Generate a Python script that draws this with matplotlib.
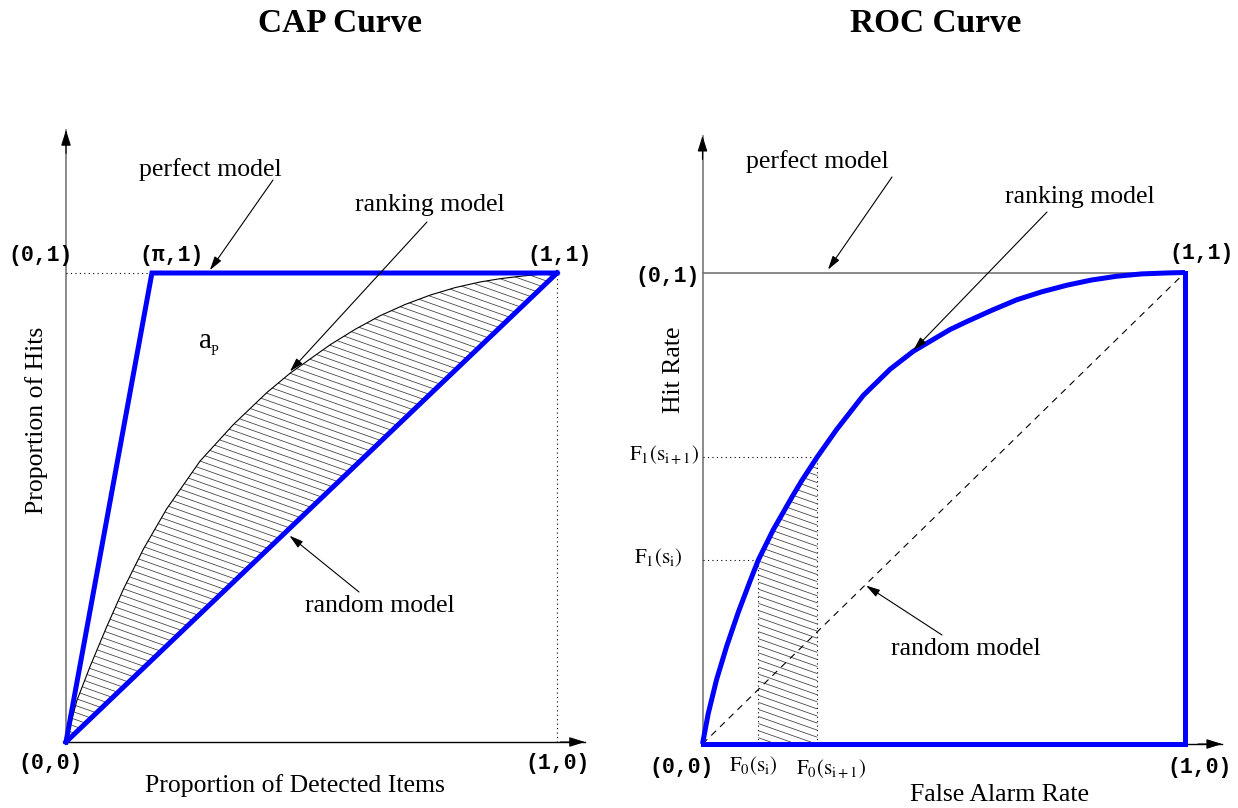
import numpy as np
import matplotlib
matplotlib.use("Agg")
import matplotlib.pyplot as plt
from matplotlib.patches import Polygon

plt.rcParams['font.family'] = ['Liberation Serif', 'DejaVu Serif']
plt.rcParams['mathtext.fontset'] = 'stix'

# CAP curve: ranking model
cap_x = [0, 0.022, 0.049, 0.083, 0.117, 0.158, 0.205, 0.273, 0.341, 0.409,
         0.456, 0.538, 0.589, 0.640, 0.691, 0.742, 0.793, 0.844, 0.885,
         0.925, 0.962, 1.0]
cap_y = [0, 0.088, 0.161, 0.246, 0.326, 0.412, 0.497, 0.599, 0.677, 0.745,
         0.786, 0.847, 0.880, 0.909, 0.933, 0.953, 0.969, 0.981, 0.988,
         0.993, 0.997, 1.0]
cap_pi = 0.175   # share of hits (pi) where the perfect model reaches 1

# ROC curve
roc_x = [0, 0.012, 0.029, 0.050, 0.074, 0.098, 0.116, 0.147, 0.185, 0.206,
         0.238, 0.278, 0.333, 0.389, 0.437, 0.513, 0.548, 0.600, 0.651,
         0.703, 0.755, 0.806, 0.858, 0.910, 0.962, 1.0]
roc_y = [0, 0.065, 0.136, 0.207, 0.279, 0.344, 0.391, 0.455, 0.523, 0.559,
         0.609, 0.667, 0.739, 0.795, 0.833, 0.879, 0.896, 0.920, 0.942,
         0.959, 0.973, 0.984, 0.992, 0.997, 0.999, 1.0]
# the strip between F0(s_i) and F0(s_i+1)
s_x = [0.116, 0.238]
s_y = [0.391, 0.609]

W, H = 1238, 808
BLUE = '#0000ff'
GREY = '#777777'
fig = plt.figure(figsize=(W / 100, H / 100), dpi=100)


def make_axes(left, right, org, sc):
    # axes whose data units put (0,0) and (1,1) where the picture has them
    ax = fig.add_axes([left / W, 0, (right - left) / W, 1])
    ax.set_xlim((left - org[0]) / sc[0], (right - org[0]) / sc[0])
    ax.set_ylim((org[1] - H) / sc[1], org[1] / sc[1])
    ax.axis('off')
    return ax


def fp(x, y):
    return (x / W, 1 - y / H)


def txt(x, y, s, **kw):
    kw.setdefault('ha', 'center')
    kw.setdefault('va', 'center')
    fig.text(*fp(x, y), s, **kw)


def mono(x, y, s):
    txt(x, y, s, family=['Liberation Mono', 'DejaVu Sans Mono'],
        weight='bold', fontsize=15.5)


def arrow(ax, tip, tail):
    ax.annotate('', xy=tip, xycoords='data', xytext=fp(*tail),
                textcoords='figure fraction',
                arrowprops=dict(arrowstyle='-|>,head_length=0.7,head_width=0.2',
                                color='black', lw=0.8, mutation_scale=12,
                                shrinkA=0, shrinkB=0))


def axis_arrows(ax, xtop, ytop):
    ax.plot([0, 0], [0, ytop], color=GREY, lw=1.2)
    ax.plot([0, xtop], [0, 0], color='black', lw=1.0)
    for tip, tail in [((0, ytop), (0, ytop - 0.05)), ((xtop, 0), (xtop - 0.05, 0))]:
        ax.annotate('', xy=tip, xytext=tail,
                    arrowprops=dict(arrowstyle='-|>,head_length=0.8,head_width=0.25',
                                    color='black', lw=0.8, mutation_scale=12,
                                    shrinkA=0, shrinkB=0))


def hatch(ax, pts, slope=-0.37, step=0.015):
    poly = Polygon(pts, closed=True, fill=False, edgecolor='none')
    ax.add_patch(poly)
    xs = np.array([-0.1, 1.1])
    for c in np.arange(-0.5, 1.6, step):
        ln, = ax.plot(xs, slope * xs + c, color='#3a3a3a', lw=0.55)
        ln.set_clip_path(poly)


# ---------------- CAP curve ----------------
ax1 = make_axes(0, 619, (66, 742), (491, 469))
hatch(ax1, list(zip(cap_x, cap_y)))
axis_arrows(ax1, 1.057, 1.305)
ax1.plot([0, cap_pi], [1, 1], color='black', lw=0.8, ls=(0, (1, 3)))
ax1.plot([1, 1], [0, 1], color='black', lw=0.8, ls=(0, (1, 3)))
ax1.plot(cap_x, cap_y, color='black', lw=0.8)
ax1.plot([0, cap_pi, 1], [0, 1, 1], color=BLUE, lw=3.6, solid_joinstyle='miter')
ax1.plot([0, 1], [0, 1], color=BLUE, lw=3.6)

arrow(ax1, (0.293, 1.006), (273, 180))
arrow(ax1, (0.456, 0.79), (427, 222))
arrow(ax1, (0.455, 0.44), (359, 592))

txt(340, 24, 'CAP Curve', fontsize=24, weight='bold')
txt(210, 170, 'perfect model', fontsize=18.5)
txt(430, 205, 'ranking model', fontsize=18.5)
txt(205, 341, 'a', fontsize=21)
txt(214, 351, 'P', fontsize=10)
txt(380, 606, 'random model', fontsize=18.5)
txt(37, 420, 'Proportion of Hits', fontsize=18.5, rotation=90)
txt(295, 786, 'Proportion of Detected Items', fontsize=18.5)
mono(41, 256, '(0,1)')
mono(172, 256, '(\u03c0,1)')
mono(560, 256, '(1,1)')
mono(51, 763, '(0,0)')
mono(558, 763, '(1,0)')

# ---------------- ROC curve ----------------
ax2 = make_axes(619, 1238, (702.5, 744), (482.5, 471.5))
strip = [(s_x[0], 0), (s_x[0], s_y[0])]
strip += [(x, y) for x, y in zip(roc_x, roc_y) if s_x[0] < x < s_x[1]]
strip += [(s_x[1], s_y[1]), (s_x[1], 0)]
hatch(ax2, strip, slope=-0.36)
axis_arrows(ax2, 1.077, 1.29)
ax2.plot([0, 1], [1, 1], color=GREY, lw=1.2)
ax2.plot([0, 1], [0, 1], color='black', lw=0.8, ls=(0, (6, 5)))
for x, y in zip(s_x, s_y):
    ax2.plot([0, x], [y, y], color='black', lw=0.8, ls=(0, (1, 3)))
    ax2.plot([x, x], [0, y], color='black', lw=0.8, ls=(0, (1, 3)))
ax2.plot(roc_x, roc_y, color=BLUE, lw=3.6, solid_capstyle='butt',
         solid_joinstyle='round')
ax2.plot([1, 1, 0], [1, 0, 0], color=BLUE, lw=3.6, solid_joinstyle='miter')

arrow(ax2, (0.26, 1.006), (892, 177))
arrow(ax2, (0.437, 0.835), (1047, 212))
arrow(ax2, (0.339, 0.336), (942, 635))

txt(936, 24, 'ROC Curve', fontsize=24, weight='bold')
txt(817, 162, 'perfect model', fontsize=18.5)
txt(1080, 197, 'ranking model', fontsize=18.5)
txt(966, 649, 'random model', fontsize=18.5)
txt(674, 370, 'Hit Rate', fontsize=18.5, rotation=90)
txt(1000, 795, 'False Alarm Rate', fontsize=18.5)
txt(664, 455, r'$\mathrm{F_1(s_{i+1})}$', fontsize=15)
txt(658, 558, r'$\mathrm{F_1(s_i)}$', fontsize=15)
txt(753, 766, r'$\mathrm{F_0(s_i)}$', fontsize=15)
txt(831, 769, r'$\mathrm{F_0(s_{i+1})}$', fontsize=15)
mono(668, 276, '(0,1)')
mono(1202, 253, '(1,1)')
mono(682, 768, '(0,0)')
mono(1200, 768, '(1,0)')

fig.savefig('out.png', dpi=100)
